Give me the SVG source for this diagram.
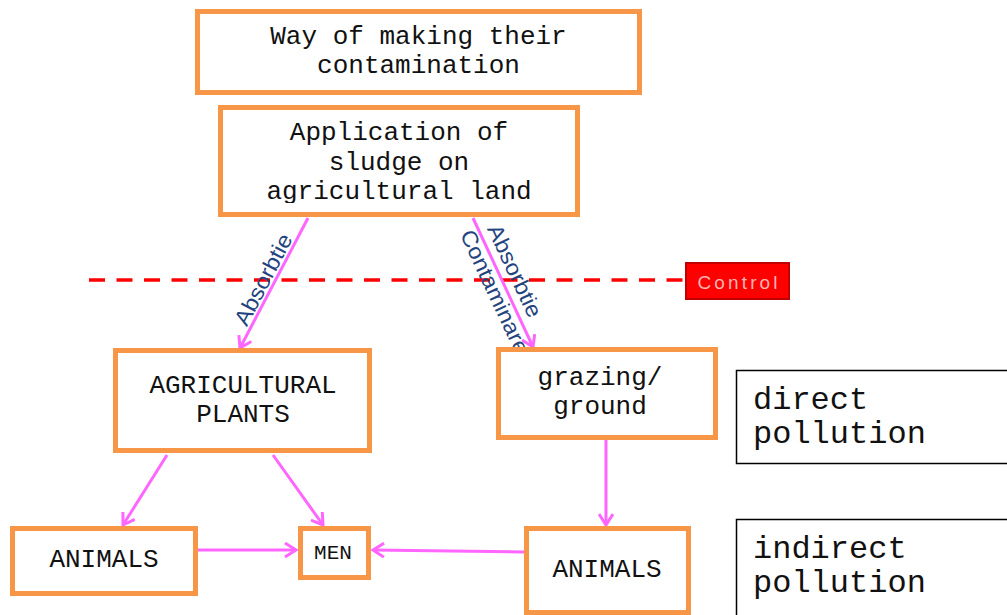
<svg xmlns="http://www.w3.org/2000/svg" width="1007" height="615" viewBox="0 0 1007 615">
  <style>
    .box { fill: #ffffff; stroke: #F79646; stroke-width: 5; }
    .note { fill: #ffffff; stroke: #000000; stroke-width: 1.5; }
    .t { font-family: "Liberation Mono", "Courier New", monospace; font-size: 26px; fill: #111111; text-anchor: middle; }
    .tn { font-family: "Liberation Mono", "Courier New", monospace; font-size: 32px; fill: #111111; }
    .conn { stroke: #FF66FF; stroke-width: 3; fill: none; marker-end: url(#arrow); }
    .lbl { font-family: "Liberation Sans", Arial, sans-serif; font-size: 22px; fill: #24447F; text-anchor: middle; }
  </style>
  <defs>
    <marker id="arrow" markerUnits="userSpaceOnUse" markerWidth="14" markerHeight="16" viewBox="0 0 14 16" refX="12" refY="8" orient="auto">
      <path d="M1,1 L12,8 L1,15" fill="none" stroke="#FF66FF" stroke-width="3"/>
    </marker>
    <clipPath id="clipApp">
      <rect x="219" y="106" width="361" height="97"/>
    </clipPath>
  </defs>

  <!-- control line -->
  <g id="control">
    <line x1="89" y1="280" x2="685" y2="280" stroke="#FF0000" stroke-width="3.5" stroke-dasharray="16 11.5"/>
    <rect x="686" y="263" width="103" height="36" fill="#FF0000" stroke="#C00000" stroke-width="2"/>
    <text x="737.5" y="288.5" font-family="Liberation Sans, Arial, sans-serif" font-size="19" fill="#F6B4B4" text-anchor="middle" textLength="80" lengthAdjust="spacing">Control</text>
  </g>

  <!-- connectors -->
  <g id="connectors">
    <line class="conn" x1="308" y1="218" x2="240" y2="348"/>
    <line class="conn" x1="473" y1="218" x2="533" y2="347"/>
    <line class="conn" x1="167" y1="455" x2="123" y2="525"/>
    <line class="conn" x1="273" y1="455" x2="323" y2="525"/>
    <line class="conn" x1="198" y1="550" x2="296" y2="550"/>
    <line class="conn" x1="524" y1="552" x2="373" y2="550"/>
    <line class="conn" x1="606" y1="440" x2="606" y2="525"/>
    <text class="lbl" transform="translate(270,283) rotate(-62.4)" textLength="100" lengthAdjust="spacingAndGlyphs">Absorbtie</text>
    <text class="lbl" transform="translate(508,274) rotate(65)" textLength="100" lengthAdjust="spacingAndGlyphs">Absorbtie</text>
    <text class="lbl" transform="translate(488,295) rotate(65)" textLength="134" lengthAdjust="spacingAndGlyphs">Contaminare</text>
  </g>

  <g id="node-way">
    <rect class="box" x="197.5" y="11.5" width="442" height="81"/>
    <text class="t" x="418.5" y="44">Way of making their</text>
    <text class="t" x="418.5" y="73">contamination</text>
  </g>

  <g id="node-application">
    <rect class="box" x="220.5" y="107.5" width="357" height="107"/>
    <g clip-path="url(#clipApp)">
      <text class="t" x="399" y="140">Application of</text>
      <text class="t" x="399" y="170">sludge on</text>
      <text class="t" x="399" y="199">agricultural land</text>
    </g>
  </g>

  <g id="node-plants">
    <rect class="box" x="115.5" y="350.5" width="254" height="100"/>
    <text class="t" x="243" y="393">AGRICULTURAL</text>
    <text class="t" x="243" y="422">PLANTS</text>
  </g>

  <g id="node-grazing">
    <rect class="box" x="498.5" y="349.5" width="217" height="88"/>
    <text class="t" x="600" y="385">grazing/</text>
    <text class="t" x="600" y="414">ground</text>
  </g>

  <g id="node-animals-left">
    <rect class="box" x="12.5" y="528.5" width="183" height="65"/>
    <text class="t" x="104" y="567">ANIMALS</text>
  </g>

  <g id="node-men">
    <rect class="box" x="300.5" y="528.5" width="68" height="49"/>
    <text class="t" x="333" y="559" style="font-size:21px">MEN</text>
  </g>

  <g id="node-animals-right">
    <rect class="box" x="526.5" y="528.5" width="162" height="84"/>
    <text class="t" x="607" y="577">ANIMALS</text>
  </g>

  <g id="node-direct">
    <rect class="note" x="736.5" y="370.5" width="285" height="93"/>
    <text class="tn" x="753" y="409">direct</text>
    <text class="tn" x="753" y="443">pollution</text>
  </g>

  <g id="node-indirect">
    <rect class="note" x="736.5" y="519.5" width="285" height="110"/>
    <text class="tn" x="753" y="558">indirect</text>
    <text class="tn" x="753" y="592">pollution</text>
  </g>
</svg>
